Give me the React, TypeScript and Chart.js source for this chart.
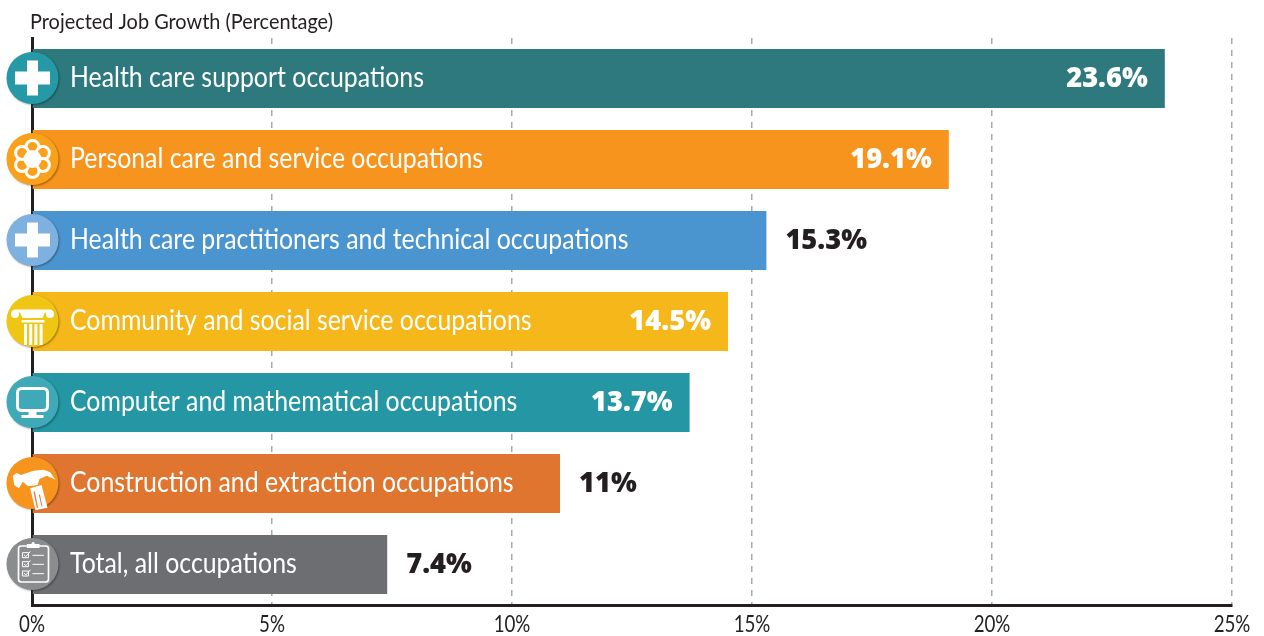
import React, { useEffect, useRef } from "react";
import { Chart, registerables } from "chart.js";

Chart.register(...registerables);

const categories = [
  "Health care support occupations",
  "Personal care and service occupations",
  "Health care practitioners and technical occupations",
  "Community and social service occupations",
  "Computer and mathematical occupations",
  "Construction and extraction occupations",
  "Total, all occupations",
];
const growthValues = [23.6, 19.1, 15.3, 14.5, 13.7, 11, 7.4];
const barColors = ["#2e797e", "#f7941d", "#4a95d0", "#f5b71a", "#2496a4", "#e0752f", "#6d6e71"];
const circleColors = ["#2699a6", "#f9a11b", "#7eb0e0", "#f0c614", "#3fa9b8", "#f7941d", "#8a8c8e"];
const iconKinds = ["cross", "flower", "cross", "column", "monitor", "hammer", "clipboard"];
const valueInside = [true, true, false, true, true, false, false];
const xTicks = [0, 5, 10, 15, 20, 25];
const axisTitle = "Projected Job Growth (Percentage)";

const INK = "#231f20";

function condensed(ctx: any, text: string, x: number, y: number, font: string, color: string, sx: number, align = "left") {
  ctx.save();
  ctx.font = font;
  ctx.fillStyle = color;
  ctx.textBaseline = "alphabetic";
  ctx.textAlign = align;
  ctx.translate(x, y);
  ctx.scale(sx, 1);
  ctx.fillText(text, 0, 0);
  ctx.restore();
}

function poly(ctx: any, pts: number[][], fill: string) {
  ctx.beginPath();
  pts.forEach((p, i) => (i ? ctx.lineTo(p[0], p[1]) : ctx.moveTo(p[0], p[1])));
  ctx.closePath();
  ctx.fillStyle = fill;
  ctx.fill();
}

function drawIcon(ctx: any, kind: string, color: string) {
  ctx.fillStyle = "#fff";
  ctx.strokeStyle = "#fff";
  ctx.lineJoin = "round";
  ctx.lineCap = "round";
  if (kind === "cross") {
    ctx.fillRect(-17.5, -6.5, 35, 13);
    ctx.fillRect(-5.5, -17.5, 11, 35);
  } else if (kind === "flower") {
    ctx.lineWidth = 3;
    for (let i = 0; i < 6; i++) {
      const a = (Math.PI / 3) * i - Math.PI / 2;
      ctx.beginPath();
      ctx.arc(Math.cos(a) * 12, Math.sin(a) * 12, 6.5, 0, Math.PI * 2);
      ctx.fillStyle = color;
      ctx.fill();
      ctx.stroke();
    }
    ctx.beginPath();
    ctx.arc(0, 0, 9, 0, Math.PI * 2);
    ctx.fillStyle = "#fff";
    ctx.fill();
  } else if (kind === "column") {
    ctx.lineWidth = 3;
    ctx.beginPath();
    ctx.moveTo(-18, -10);
    ctx.lineTo(18, -10);
    ctx.stroke();
    ctx.beginPath();
    ctx.arc(-17.5, -7, 4, 0, Math.PI * 2);
    ctx.arc(17.5, -7, 4, 0, Math.PI * 2);
    ctx.fill();
    poly(ctx, [[-13, -10], [13, -10], [10, -3], [-10, -3]], "#fff");
    ctx.fillRect(-11, -1, 23, 2.5);
    for (let i = 0; i < 4; i++) ctx.fillRect(-8.5 + i * 5.2, 3, 3, 21);
  } else if (kind === "monitor") {
    ctx.lineWidth = 3;
    ctx.beginPath();
    ctx.roundRect(-15, -13.5, 30, 22, 4);
    ctx.stroke();
    ctx.fillRect(-4, 9, 8, 4);
    ctx.fillRect(-11, 13, 22, 3);
  } else if (kind === "hammer") {
    ctx.save();
    ctx.scale(1 / 3, 1 / 3);
    ctx.translate(-97, -130);
    poly(ctx, [[38, 108], [50, 100], [62, 106], [100, 93], [130, 90], [150, 98], [166, 120], [140, 108], [118, 118], [112, 136], [84, 140], [68, 126], [56, 146], [42, 136]], "#fff");
    poly(ctx, [[90, 146], [124, 136], [142, 204], [106, 212]], "#fff");
    poly(ctx, [[100, 156], [104, 155], [114, 204], [110, 205]], "#e97d45");
    poly(ctx, [[116, 165], [119, 164], [127, 200], [124, 201]], "#e97d45");
    ctx.restore();
  } else if (kind === "clipboard") {
    ctx.save();
    ctx.scale(1 / 3, 1 / 3);
    ctx.translate(-97, -370);
    ctx.lineWidth = 5;
    ctx.beginPath();
    ctx.roundRect(55, 316, 90, 108, 8);
    ctx.stroke();
    ctx.fillRect(80, 310, 38, 12);
    ctx.beginPath();
    ctx.arc(99, 309, 5, 0, Math.PI * 2);
    ctx.fill();
    ctx.lineWidth = 3;
    [336, 363, 391].forEach((y) => {
      ctx.strokeRect(68, y, 17, 15);
      ctx.beginPath();
      ctx.moveTo(72, y + 7);
      ctx.lineTo(77, y + 12);
      ctx.lineTo(90, y - 3);
      ctx.stroke();
      ctx.beginPath();
      ctx.moveTo(98, y + 8);
      ctx.lineTo(130, y + 8);
      ctx.stroke();
    });
    ctx.restore();
  }
}

const overlay = {
  id: "overlay",
  afterDatasetsDraw(chart: any) {
    const { ctx } = chart;
    const bars = chart.getDatasetMeta(0).data;
    const xs = chart.scales.x;
    const x0 = xs.getPixelForValue(0);
    condensed(ctx, axisTitle, 30, 29, "400 22px Lato", INK, 0.905);
    xTicks.forEach((t) => {
      condensed(ctx, t + "%", xs.getPixelForValue(t), 632, "400 24px Lato", INK, 0.78, "center");
    });
    bars.forEach((bar: any, i: number) => {
      condensed(ctx, categories[i], 70, bar.y + 8, "400 28px Lato", "#fff", 0.888);
      const label = growthValues[i] + "%";
      const valueFont = "900 29px 'Noto Sans'";
      if (valueInside[i]) {
        condensed(ctx, label, bar.x - 17, bar.y + 8.5, valueFont, "#fff", 0.94, "right");
      } else {
        condensed(ctx, label, bar.x + 19, bar.y + 8.5, valueFont, INK, 0.94, "left");
      }
      ctx.save();
      ctx.translate(x0 + 0.5, bar.y - 0.5);
      ctx.save();
      ctx.shadowColor = "rgba(0,0,0,0.35)";
      ctx.shadowBlur = 2;
      ctx.shadowOffsetX = 1;
      ctx.shadowOffsetY = 1;
      ctx.beginPath();
      ctx.arc(0, 0, 26, 0, Math.PI * 2);
      ctx.fillStyle = circleColors[i];
      ctx.fill();
      ctx.restore();
      drawIcon(ctx, iconKinds[i], circleColors[i]);
      ctx.restore();
    });
  },
};

export default function App() {
  const ref = useRef<HTMLCanvasElement>(null);
  useEffect(() => {
    const chart = new Chart(ref.current as HTMLCanvasElement, {
      type: "bar",
      data: {
        labels: categories,
        datasets: [
          {
            data: growthValues,
            backgroundColor: barColors,
            categoryPercentage: 1,
            barPercentage: 59 / 81,
          },
        ],
      },
      options: {
        indexAxis: "y",
        animation: false,
        responsive: false,
        layout: { padding: { left: 32, right: 32, top: 38, bottom: 0 } },
        plugins: { legend: { display: false }, tooltip: { enabled: false } },
        scales: {
          x: {
            type: "linear",
            min: 0,
            max: 25,
            afterFit: (s: any) => {
              s.height = 31;
            },
            afterBuildTicks: (s: any) => {
              s.ticks = xTicks.map((value) => ({ value }));
            },
            grid: { color: "#a7a9ac", lineWidth: 1.5, drawTicks: false },
            border: { color: INK, width: 3, dash: [6, 6] },
            ticks: { display: false },
          },
          y: {
            grid: { display: false, drawTicks: false },
            border: { color: INK, width: 3 },
            ticks: { display: false },
          },
        },
      },
      plugins: [overlay],
    } as any);
    return () => chart.destroy();
  }, []);
  return (
    <div style={{ position: "absolute", left: 0, top: 0, width: 1264, height: 636, background: "#fff" }}>
      <canvas ref={ref} width={1264} height={636} style={{ display: "block" }} />
    </div>
  );
}
